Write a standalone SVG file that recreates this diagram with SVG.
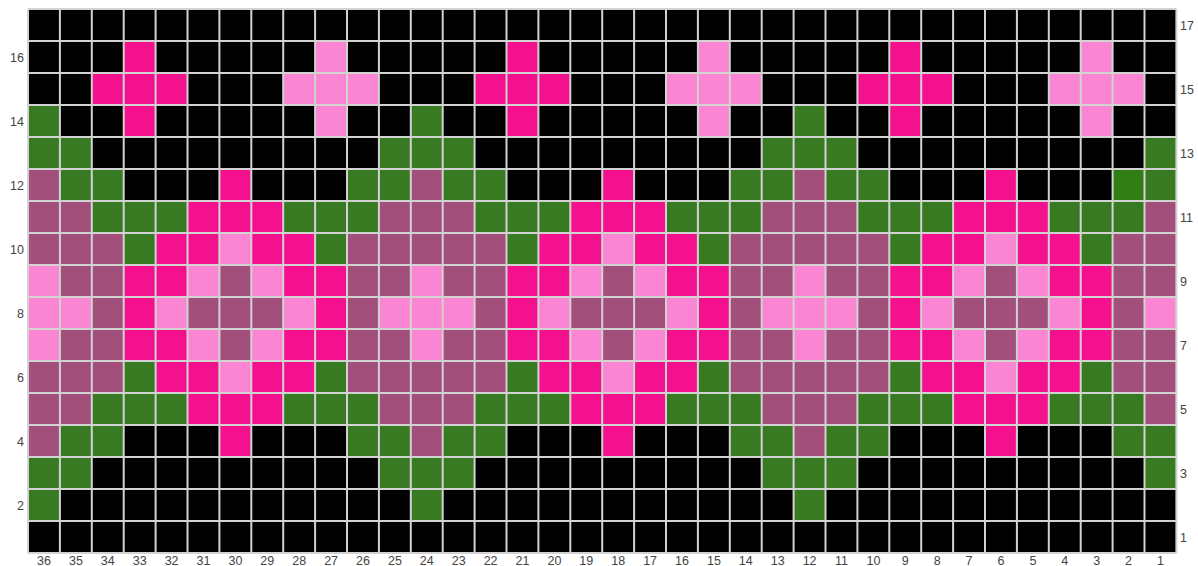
<svg xmlns="http://www.w3.org/2000/svg" xmlns:xlink="http://www.w3.org/1999/xlink" width="1198" height="566" viewBox="0 0 1198 566">
<style>
.p{fill:#f4118e}.l{fill:#f985d3}.m{fill:#a24f7b}.g{fill:#377a21}.g2{fill:#2f7d14}
.gl{stroke:#d2d2d2;stroke-width:2;fill:none}
text{font-family:"Liberation Sans",Arial,sans-serif;font-size:12.5px;fill:#444}
.lt{text-anchor:end}.bt{text-anchor:middle}
</style>
<defs>
<g id="rep">
<rect class="p" x="3" y="1" width="1" height="1"/><rect class="l" x="9" y="1" width="1" height="1"/>
<rect class="p" x="2" y="2" width="3" height="1"/><rect class="l" x="8" y="2" width="3" height="1"/>
<rect class="g" x="0" y="3" width="1" height="1"/><rect class="p" x="3" y="3" width="1" height="1"/><rect class="l" x="9" y="3" width="1" height="1"/>
<rect class="g" x="0" y="4" width="2" height="1"/><rect class="g" x="11" y="4" width="1" height="1"/>
<g id="r5">
<rect class="m" x="0" y="5" width="1" height="1"/><rect class="g" x="1" y="5" width="2" height="1"/><rect class="p" x="6" y="5" width="1" height="1"/><rect class="g" x="10" y="5" width="2" height="1"/>
</g>
<g id="r6">
<rect class="m" x="0" y="6" width="2" height="1"/><rect class="g" x="2" y="6" width="3" height="1"/><rect class="p" x="5" y="6" width="3" height="1"/><rect class="g" x="8" y="6" width="3" height="1"/><rect class="m" x="11" y="6" width="1" height="1"/>
</g>
<g id="r7">
<rect class="m" x="0" y="7" width="3" height="1"/><rect class="g" x="3" y="7" width="1" height="1"/><rect class="p" x="4" y="7" width="2" height="1"/><rect class="l" x="6" y="7" width="1" height="1"/><rect class="p" x="7" y="7" width="2" height="1"/><rect class="g" x="9" y="7" width="1" height="1"/><rect class="m" x="10" y="7" width="2" height="1"/>
</g>
<g id="r8">
<rect class="l" x="0" y="8" width="1" height="1"/><rect class="m" x="1" y="8" width="2" height="1"/><rect class="p" x="3" y="8" width="2" height="1"/><rect class="l" x="5" y="8" width="1" height="1"/><rect class="m" x="6" y="8" width="1" height="1"/><rect class="l" x="7" y="8" width="1" height="1"/><rect class="p" x="8" y="8" width="2" height="1"/><rect class="m" x="10" y="8" width="2" height="1"/>
</g>
<rect class="l" x="0" y="9" width="2" height="1"/><rect class="m" x="2" y="9" width="1" height="1"/><rect class="p" x="3" y="9" width="1" height="1"/><rect class="l" x="4" y="9" width="1" height="1"/><rect class="m" x="5" y="9" width="3" height="1"/><rect class="l" x="8" y="9" width="1" height="1"/><rect class="p" x="9" y="9" width="1" height="1"/><rect class="m" x="10" y="9" width="1" height="1"/><rect class="l" x="11" y="9" width="1" height="1"/>
<use xlink:href="#r8" href="#r8" y="2"/>
<use xlink:href="#r7" href="#r7" y="4"/>
<use xlink:href="#r6" href="#r6" y="6"/>
<use xlink:href="#r5" href="#r5" y="8"/>
<rect class="g" x="0" y="14" width="2" height="1"/><rect class="g" x="11" y="14" width="1" height="1"/>
<rect class="g" x="0" y="15" width="1" height="1"/>
</g>
</defs>
<g id="chart">
<rect x="28" y="9" width="1148.4" height="544" fill="#000"/>
<g transform="translate(28,9) scale(31.9,32)">
<use xlink:href="#rep" href="#rep"/>
<use xlink:href="#rep" href="#rep" x="12"/>
<use xlink:href="#rep" href="#rep" x="24"/>
<rect class="g2" x="34" y="5" width="1" height="1"/>
</g>
<path class="gl" d="M28 9V553M59.9 9V553M91.8 9V553M123.7 9V553M155.6 9V553M187.5 9V553M219.4 9V553M251.3 9V553M283.2 9V553M315.1 9V553M347 9V553M378.9 9V553M410.8 9V553M442.7 9V553M474.6 9V553M506.5 9V553M538.4 9V553M570.3 9V553M602.2 9V553M634.1 9V553M666 9V553M697.9 9V553M729.8 9V553M761.7 9V553M793.6 9V553M825.5 9V553M857.4 9V553M889.3 9V553M921.2 9V553M953.1 9V553M985 9V553M1016.9 9V553M1048.8 9V553M1080.7 9V553M1112.6 9V553M1144.5 9V553M1176.4 9V553"/>
<path class="gl" d="M28 9H1176.4M28 41H1176.4M28 73H1176.4M28 105H1176.4M28 137H1176.4M28 169H1176.4M28 201H1176.4M28 233H1176.4M28 265H1176.4M28 297H1176.4M28 329H1176.4M28 361H1176.4M28 393H1176.4M28 425H1176.4M28 457H1176.4M28 489H1176.4M28 521H1176.4M28 553H1176.4"/>
</g>
<g id="row-labels-left">
<text class="lt" x="24" y="61.5">16</text>
<text class="lt" x="24" y="125.5">14</text>
<text class="lt" x="24" y="189.5">12</text>
<text class="lt" x="24" y="253.5">10</text>
<text class="lt" x="24" y="317.5">8</text>
<text class="lt" x="24" y="381.5">6</text>
<text class="lt" x="24" y="445.5">4</text>
<text class="lt" x="24" y="509.5">2</text>
</g>
<g id="row-labels-right">
<text x="1180" y="29.5">17</text>
<text x="1180" y="93.5">15</text>
<text x="1180" y="157.5">13</text>
<text x="1180" y="221.5">11</text>
<text x="1180" y="285.5">9</text>
<text x="1180" y="349.5">7</text>
<text x="1180" y="413.5">5</text>
<text x="1180" y="477.5">3</text>
<text x="1180" y="541.5">1</text>
</g>
<g id="col-labels">
<text class="bt" x="44" y="565">36</text>
<text class="bt" x="75.9" y="565">35</text>
<text class="bt" x="107.8" y="565">34</text>
<text class="bt" x="139.7" y="565">33</text>
<text class="bt" x="171.6" y="565">32</text>
<text class="bt" x="203.5" y="565">31</text>
<text class="bt" x="235.4" y="565">30</text>
<text class="bt" x="267.3" y="565">29</text>
<text class="bt" x="299.2" y="565">28</text>
<text class="bt" x="331.1" y="565">27</text>
<text class="bt" x="363" y="565">26</text>
<text class="bt" x="394.9" y="565">25</text>
<text class="bt" x="426.8" y="565">24</text>
<text class="bt" x="458.7" y="565">23</text>
<text class="bt" x="490.6" y="565">22</text>
<text class="bt" x="522.5" y="565">21</text>
<text class="bt" x="554.4" y="565">20</text>
<text class="bt" x="586.3" y="565">19</text>
<text class="bt" x="618.2" y="565">18</text>
<text class="bt" x="650.1" y="565">17</text>
<text class="bt" x="682" y="565">16</text>
<text class="bt" x="713.9" y="565">15</text>
<text class="bt" x="745.8" y="565">14</text>
<text class="bt" x="777.7" y="565">13</text>
<text class="bt" x="809.6" y="565">12</text>
<text class="bt" x="841.5" y="565">11</text>
<text class="bt" x="873.4" y="565">10</text>
<text class="bt" x="905.3" y="565">9</text>
<text class="bt" x="937.2" y="565">8</text>
<text class="bt" x="969.1" y="565">7</text>
<text class="bt" x="1001" y="565">6</text>
<text class="bt" x="1032.9" y="565">5</text>
<text class="bt" x="1064.8" y="565">4</text>
<text class="bt" x="1096.7" y="565">3</text>
<text class="bt" x="1128.6" y="565">2</text>
<text class="bt" x="1160.5" y="565">1</text>
</g>
</svg>
